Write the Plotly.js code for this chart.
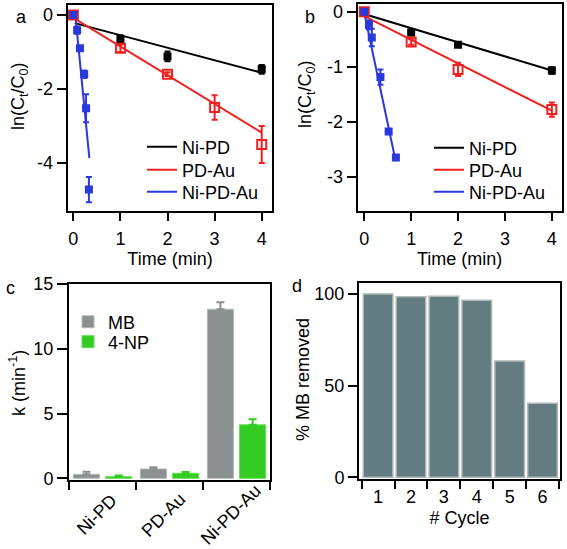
<!DOCTYPE html>
<html>
<head>
<meta charset="utf-8">
<script src="https://cdn.plot.ly/plotly-3.0.1.min.js"></script>
<style>html,body{margin:0;padding:0;background:#fff;}#chart{width:567px;height:549px;}</style>
</head>
<body>
<div id="chart"></div>
<script>
// ---- Panel a data ----
const aTimeNiPD = [0, 1, 2, 4];
const aNiPD = [0, -0.65, -1.12, -1.47];
const aNiPDErr = [0.03, 0.1, 0.13, 0.12];
const aTimePDAu = [0, 1, 2, 3, 4];
const aPDAu = [0, -0.9, -1.6, -2.5, -3.5];
const aPDAuErr = [0.04, 0.1, 0.05, 0.33, 0.5];
const aTimeNPA = [0, 0.08, 0.14, 0.23, 0.27, 0.33];
const aNPA = [0, -0.41, -0.9, -1.6, -2.52, -4.72];
const aNPAErr = [0.04, 0.1, 0.06, 0.1, 0.38, 0.34];
const aNPAXErr = [0.02, 0.04, 0.05, 0.05, 0.05, 0.05];
const aFitNiPDt = [0.03, 4], aFitNiPDy = [-0.22, -1.56];
const aFitPDAut = [0, 4], aFitPDAuy = [-0.08, -3.18];
const aFitNPAt = [0.05, 0.34], aFitNPAy = [-0.1, -3.87];

// ---- Panel b data ----
const bTime = [0, 1, 2, 4];
const bNiPD = [0, -0.38, -0.6, -1.07];
const bNiPDErr = [0.02, 0.05, 0.03, 0.06];
const bPDAu = [0, -0.55, -1.05, -1.78];
const bPDAuErr = [0.03, 0.05, 0.12, 0.13];
const bTimeNPA = [0, 0.1, 0.16, 0.345, 0.52, 0.675];
const bNPA = [0, -0.24, -0.47, -1.19, -2.18, -2.65];
const bNPAErr = [0.03, 0.08, 0.16, 0.14, 0.03, 0.04];
const bNPAXErr = [0.02, 0.04, 0.05, 0.05, 0.05, 0.04];
const bFitNiPDt = [0.03, 4], bFitNiPDy = [-0.05, -1.07];
const bFitPDAut = [0, 4], bFitPDAuy = [-0.08, -1.8];
const bFitNPAt = [0, 0.67], bFitNPAy = [-0.02, -2.72];

// ---- Panel c data ----
const catalysts = ['Ni-PD', 'PD-Au', 'Ni-PD-Au'];
const kMB = [0.31, 0.72, 13.05];
const kMBErr = [0.2, 0.13, 0.55];
const kNP = [0.13, 0.39, 4.13];
const kNPErr = [0.08, 0.1, 0.42];

// ---- Panel d data ----
const cycles = ['1', '2', '3', '4', '5', '6'];
const mbRemoved = [100, 98.4, 98.8, 96.6, 63.5, 40.4];

const W = 567, H = 549;
const px = v => v / W, py = v => 1 - v / H;
const FONT = 'Liberation Sans, Arial, sans-serif';
const BLACK = '#000000', RED = '#f02020', BLUE = '#2a38dc';
const GRAY = '#8b9191', GREEN = '#33cc22', SLATE = '#637c82';

function eb(arr, color) { return {type: 'data', array: arr, visible: true, color: color, thickness: 2, width: 3}; }
function zeros(n) { return new Array(n).fill(0); }

const traces = [
  // panel a fit lines (legend)
  {x: aFitNiPDt, y: aFitNiPDy, mode: 'lines', name: 'Ni-PD', line: {color: BLACK, width: 2}, xaxis: 'x', yaxis: 'y', legend: 'legend'},
  {x: aFitPDAut, y: aFitPDAuy, mode: 'lines', name: 'PD-Au', line: {color: RED, width: 2}, xaxis: 'x', yaxis: 'y', legend: 'legend2'},
  {x: aFitNPAt, y: aFitNPAy, mode: 'lines', name: 'Ni-PD-Au', line: {color: BLUE, width: 2}, xaxis: 'x', yaxis: 'y', legend: 'legend3'},
  // panel a points
  {x: aTimeNiPD, y: aNiPD, mode: 'markers', showlegend: false, marker: {symbol: 'square', size: 8, color: BLACK}, error_y: eb(aNiPDErr, BLACK), xaxis: 'x', yaxis: 'y'},
  {x: aTimePDAu, y: aPDAu, mode: 'markers', showlegend: false, marker: {symbol: 'square-open', size: 9, color: RED, line: {width: 2, color: RED}}, error_y: eb(aPDAuErr, RED), xaxis: 'x', yaxis: 'y'},
  {x: aTimeNPA, y: aNPA, mode: 'markers', showlegend: false, marker: {symbol: 'square', size: 8, color: BLUE}, error_y: eb(aNPAErr, BLUE), error_x: eb(aNPAXErr, BLUE), xaxis: 'x', yaxis: 'y'},
  // panel b fit lines
  {x: bFitNiPDt, y: bFitNiPDy, mode: 'lines', name: 'Ni-PD', line: {color: BLACK, width: 2}, xaxis: 'x2', yaxis: 'y2', legend: 'legend4'},
  {x: bFitPDAut, y: bFitPDAuy, mode: 'lines', name: 'PD-Au', line: {color: RED, width: 2}, xaxis: 'x2', yaxis: 'y2', legend: 'legend5'},
  {x: bFitNPAt, y: bFitNPAy, mode: 'lines', name: 'Ni-PD-Au', line: {color: BLUE, width: 2}, xaxis: 'x2', yaxis: 'y2', legend: 'legend6'},
  // panel b points
  {x: bTime, y: bNiPD, mode: 'markers', showlegend: false, marker: {symbol: 'square', size: 8, color: BLACK}, error_y: eb(bNiPDErr, BLACK), xaxis: 'x2', yaxis: 'y2'},
  {x: bTime, y: bPDAu, mode: 'markers', showlegend: false, marker: {symbol: 'square-open', size: 9, color: RED, line: {width: 2, color: RED}}, error_y: eb(bPDAuErr, RED), xaxis: 'x2', yaxis: 'y2'},
  {x: bTimeNPA, y: bNPA, mode: 'markers', showlegend: false, marker: {symbol: 'square', size: 8, color: BLUE}, error_y: eb(bNPAErr, BLUE), error_x: eb(bNPAXErr, BLUE), xaxis: 'x2', yaxis: 'y2'},
  // panel c bars
  {type: 'bar', x: catalysts, y: kMB, name: 'MB', marker: {color: GRAY, line: {color: '#b4b8b8', width: 1}},
   error_y: {type: 'data', symmetric: false, array: kMBErr, arrayminus: zeros(3), color: GRAY, thickness: 2, width: 4},
   xaxis: 'x3', yaxis: 'y3', legend: 'legend7'},
  {type: 'bar', x: catalysts, y: kNP, name: '4-NP', marker: {color: GREEN, line: {color: '#66dd55', width: 1}},
   error_y: {type: 'data', symmetric: false, array: kNPErr, arrayminus: zeros(3), color: GREEN, thickness: 2, width: 4},
   xaxis: 'x3', yaxis: 'y3', legend: 'legend8'},
  // panel d bars
  {type: 'bar', x: cycles, y: mbRemoved, width: 0.9, showlegend: false, marker: {color: SLATE, line: {color: '#b0b8b8', width: 1.5}}, xaxis: 'x4', yaxis: 'y4'}
];

function axBase(extra) {
  return Object.assign({
    showline: true, mirror: true, linecolor: '#000', linewidth: 2,
    ticks: 'outside', ticklen: 8, tickwidth: 2, tickcolor: '#000',
    showgrid: false, zeroline: false, fixedrange: true,
    tickfont: {family: FONT, size: 18, color: '#000'}
  }, extra);
}
const titleFont = {family: FONT, size: 18, color: '#000'};
const legFont = {family: FONT, size: 18, color: '#000'};

function leg(textX, rowY) {
  return {x: px(textX - 40), y: py(rowY), xanchor: 'left', yanchor: 'middle',
          bgcolor: 'rgba(0,0,0,0)', borderwidth: 0, font: legFont, tracegroupgap: 0};
}

function paperNote(text, x, y, angle) {
  const a = {text: text, x: px(x), y: py(y), xref: 'paper', yref: 'paper', showarrow: false,
             xanchor: 'center', yanchor: 'middle', font: titleFont};
  if (angle !== undefined) a.textangle = angle;
  return a;
}

// rotated category labels for panel c, centred as in the original
const catLabels = catalysts.map(c => ({
  text: c, x: c, xref: 'x3', y: py(515), yref: 'paper', xshift: -6, showarrow: false,
  textangle: -45, xanchor: 'center', yanchor: 'middle', font: titleFont
}));

const layout = {
  width: W, height: H,
  margin: {l: 0, r: 0, t: 0, b: 0},
  paper_bgcolor: '#ffffff', plot_bgcolor: '#ffffff',
  font: {family: FONT, size: 18, color: '#000'},
  barmode: 'group', bargap: 0.04, bargroupgap: 0.1875,
  xaxis: axBase({domain: [px(67.7), px(272.3)], range: [-0.12, 4.225], tickvals: [0, 1, 2, 3, 4], anchor: 'y',
    ticklabelstandoff: 3, title: {text: 'Time (min)', font: titleFont, standoff: 1}}),
  yaxis: axBase({domain: [py(210.7), py(5)], range: [-5.29, 0.27], tickvals: [0, -2, -4], ticktext: ['0', '-2', '-4'], anchor: 'x', ticklen: 9}),
  xaxis2: axBase({domain: [px(357.7), px(561.7)], range: [-0.14, 4.21], tickvals: [0, 1, 2, 3, 4], anchor: 'y2',
    ticklabelstandoff: 3, title: {text: 'Time (min)', font: titleFont, standoff: 1}}),
  yaxis2: axBase({domain: [py(210.7), py(4)], range: [-3.62, 0.14], tickvals: [0, -1, -2, -3], ticktext: ['0', '-1', '-2', '-3'], anchor: 'x2', ticklen: 9}),
  xaxis3: axBase({domain: [px(69), px(270)], type: 'category', range: [-0.5, 2.5], tickson: 'boundaries', showticklabels: false, anchor: 'y3'}),
  yaxis3: axBase({domain: [py(480), py(284)], range: [-0.13, 15], tickvals: [0, 5, 10, 15], anchor: 'x3', ticklen: 10}),
  xaxis4: axBase({domain: [px(359), px(560)], type: 'category', range: [-0.58, 5.53], tickson: 'boundaries', anchor: 'y4',
    title: {text: '# Cycle', font: titleFont, standoff: 6}}),
  yaxis4: axBase({domain: [py(479), py(283.3)], range: [-0.9, 105.8], tickvals: [0, 50, 100], anchor: 'x4', ticklen: 9}),
  legend: leg(182, 147), legend2: leg(182, 170), legend3: leg(182, 192),
  legend4: leg(469, 148), legend5: leg(469, 170), legend6: leg(469, 192),
  legend7: leg(108, 322), legend8: leg(108, 342),
  annotations: [
    paperNote('a', 21, 17),
    paperNote('b', 310, 17),
    paperNote('c', 10, 288),
    paperNote('d', 297, 286),
    paperNote('ln(C<sub>t</sub>/C<sub>0</sub>)', 20, 96, -90),
    paperNote('ln(C<sub>t</sub>/C<sub>0</sub>)', 306, 94, -90),
    paperNote('k (min<sup>-1</sup>)', 17, 383, -90),
    paperNote('% MB removed', 303, 380, -90)
  ].concat(catLabels)
};

Plotly.newPlot('chart', traces, layout, {displayModeBar: false, staticPlot: true});
</script>
</body>
</html>
